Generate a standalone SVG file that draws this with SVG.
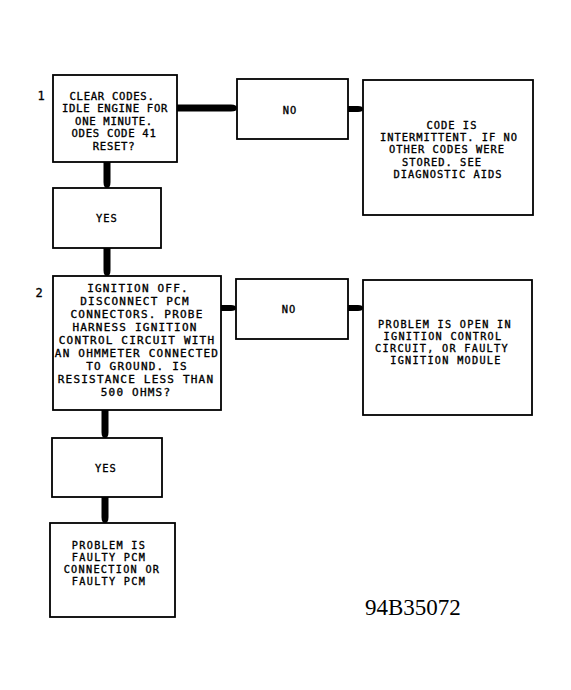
<svg xmlns="http://www.w3.org/2000/svg" width="571" height="690" viewBox="0 0 571 690">
<style>
.box{fill:#fff;stroke:#000;stroke-width:1.8}
.t{font-family:"DejaVu Sans Mono","Liberation Mono",monospace;fill:#000;stroke:#000;stroke-width:0.35;text-anchor:middle;font-size:10.4px;letter-spacing:1px}
.t1{font-size:10.6px;letter-spacing:0.7px}
.t2{font-size:11px;letter-spacing:1.2px}
.t3{font-size:10.2px;letter-spacing:1.3px}
.num{font-family:"DejaVu Sans Mono","Liberation Mono",monospace;fill:#000;stroke:#000;stroke-width:0.3;font-size:12px;text-anchor:middle}
.arr{fill:#000;stroke:none}
.lbl{font-family:"Liberation Serif","Times New Roman",serif;font-size:23px;fill:#000}
</style>
<rect width="571" height="690" fill="#fff"/>
<g id="connectors">
<path class="arr" d="M177,104.5 H231 Q237,104.5 237,108 Q237,111.5 231,111.5 H177 Z"/>
<path class="arr" d="M348,106 H358 Q363,106 363,109 Q363,112 358,112 H348 Z"/>
<path class="arr" d="M103.5,162 V182 Q103.5,188 107,188 Q110.5,188 110.5,182 V162 Z"/>
<path class="arr" d="M103.5,248 V270 Q103.5,276 107,276 Q110.5,276 110.5,270 V248 Z"/>
<path class="arr" d="M221,305 H231 Q236,305 236,308 Q236,311 231,311 H221 Z"/>
<path class="arr" d="M348,305 H358 Q363,305 363,308 Q363,311 358,311 H348 Z"/>
<path class="arr" d="M101.5,410 V432 Q101.5,438 105,438 Q108.5,438 108.5,432 V410 Z"/>
<path class="arr" d="M101.5,497 V517 Q101.5,523 105,523 Q108.5,523 108.5,517 V497 Z"/>
</g>
<g id="step1">
<text class="num" x="41" y="100">1</text>
<rect class="box" x="53" y="75" width="124" height="87"/>
<text class="t t1"><tspan x="112" y="99.5">CLEAR CODES.</tspan><tspan x="115" y="112">IDLE ENGINE FOR</tspan><tspan x="114" y="124.5">ONE MINUTE.</tspan><tspan x="114" y="137">ODES CODE 41</tspan><tspan x="114" y="149.5">RESET?</tspan></text>
</g>
<g id="no1">
<rect class="box" x="237" y="79" width="111" height="60"/>
<text class="t" x="290" y="114">NO</text>
</g>
<g id="result1">
<rect class="box" x="363" y="80" width="170" height="135"/>
<text class="t"><tspan x="452" y="128.5">CODE IS</tspan><tspan x="449" y="141">INTERMITTENT. IF NO</tspan><tspan x="447" y="153.3">OTHER CODES WERE</tspan><tspan x="442" y="165.6">STORED. SEE</tspan><tspan x="448" y="177.9">DIAGNOSTIC AIDS</tspan></text>
</g>
<g id="yes1">
<rect class="box" x="53" y="188" width="108" height="60"/>
<text class="t" x="107" y="222">YES</text>
</g>
<g id="step2">
<text class="num" x="39" y="297">2</text>
<rect class="box" x="53" y="276" width="168" height="134"/>
<text class="t t2"><tspan x="138" y="291.5">IGNITION OFF.</tspan><tspan x="135" y="304.5">DISCONNECT PCM</tspan><tspan x="137" y="317.5">CONNECTORS. PROBE</tspan><tspan x="135" y="330.5">HARNESS IGNITION</tspan><tspan x="137" y="343.5">CONTROL CIRCUIT WITH</tspan><tspan x="137" y="356.5">AN OHMMETER CONNECTED</tspan><tspan x="137" y="369.5">TO GROUND. IS</tspan><tspan x="136" y="382.5">RESISTANCE LESS THAN</tspan><tspan x="136" y="395.5">500 OHMS?</tspan></text>
</g>
<g id="no2">
<rect class="box" x="236" y="279" width="112" height="60"/>
<text class="t" x="289" y="313">NO</text>
</g>
<g id="result2">
<rect class="box" x="363" y="280" width="169" height="135"/>
<text class="t t3"><tspan x="445" y="328">PROBLEM IS OPEN IN</tspan><tspan x="443" y="340">IGNITION CONTROL</tspan><tspan x="442" y="352">CIRCUIT, OR FAULTY</tspan><tspan x="446" y="364">IGNITION MODULE</tspan></text>
</g>
<g id="yes2">
<rect class="box" x="52" y="438" width="110" height="59"/>
<text class="t" x="106" y="471.5">YES</text>
</g>
<g id="result3">
<rect class="box" x="50" y="523" width="125" height="94"/>
<text class="t t3"><tspan x="109" y="548.5">PROBLEM IS</tspan><tspan x="109" y="560.5">FAULTY PCM</tspan><tspan x="112" y="572.5">CONNECTION OR</tspan><tspan x="109" y="584.5">FAULTY PCM</tspan></text>
</g>
<text class="lbl" x="365" y="615">94B35072</text>
</svg>
